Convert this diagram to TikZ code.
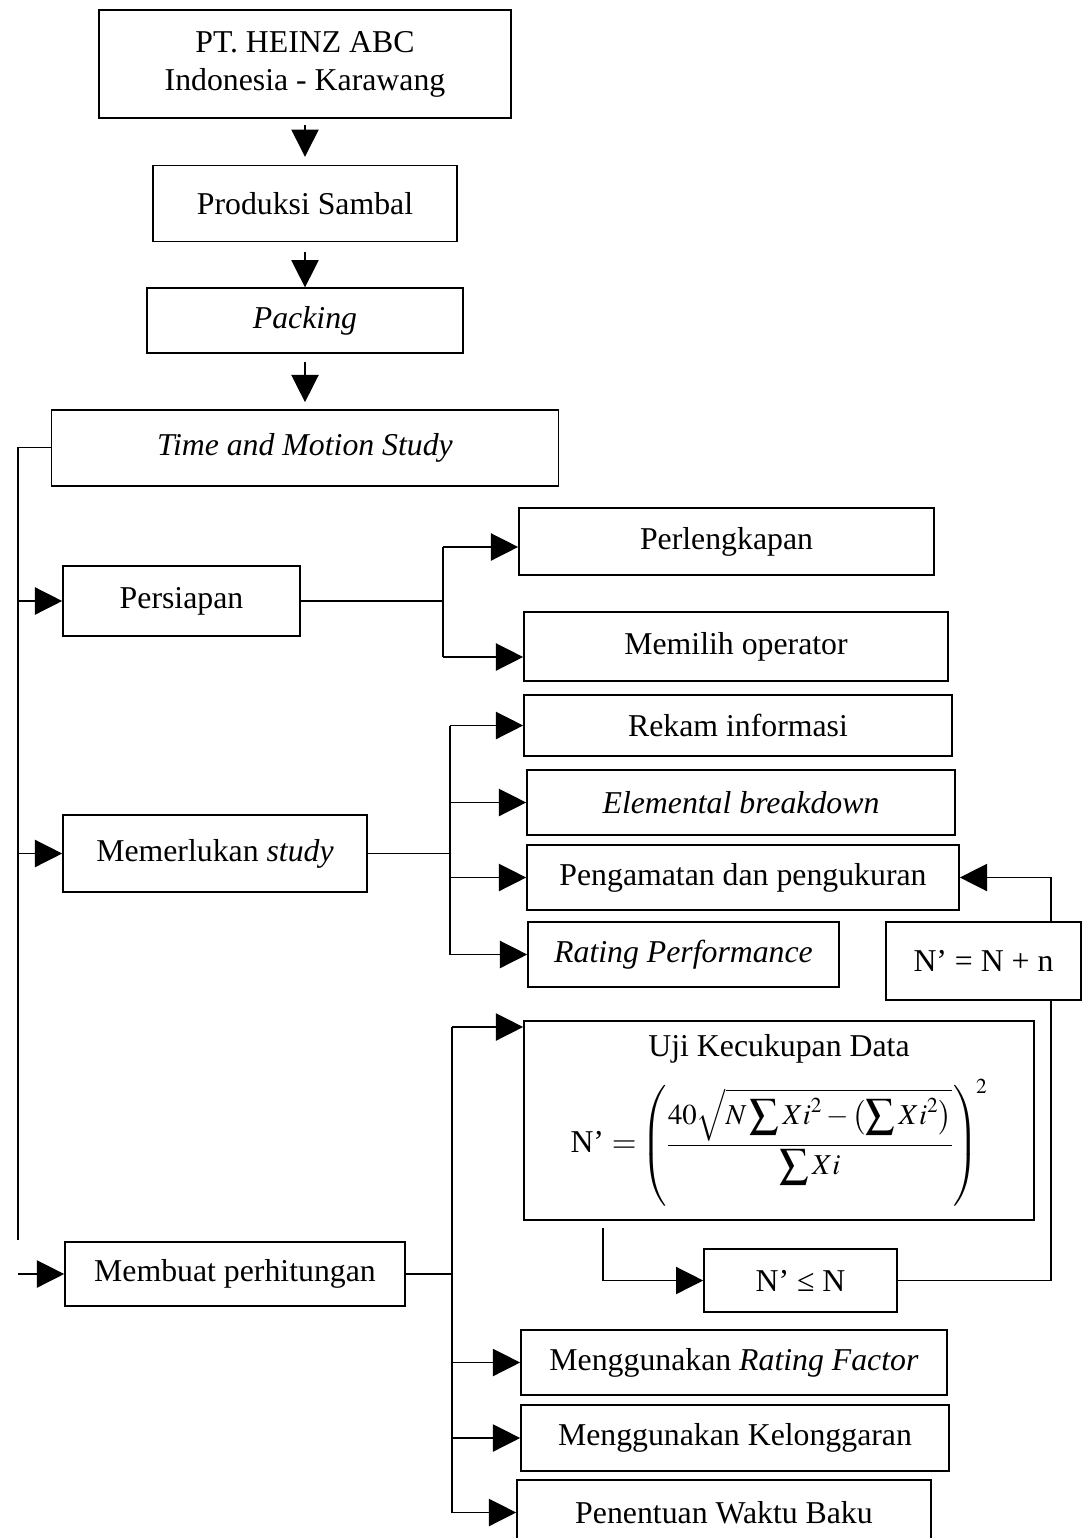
\documentclass[tikz,border=0pt]{standalone}
\usepackage{amsmath}
\usepackage{mathptmx}
\usepackage{fontspec}
\setmainfont{Liberation Serif}
\usepackage{tikz}
\usetikzlibrary{arrows.meta, positioning, calc}
\newcommand{\fsz}{\fontsize{22.6}{27}\selectfont}
\newcommand{\fmsz}{\fontsize{20.5}{24}\selectfont}
\tikzset{
  box/.style={rectangle, draw=black, fill=white, align=center,
    font=\fsz, line width=1.1pt, inner sep=2pt},
  arrow/.style={-{Triangle[length=0.68cm, width=0.68cm]}, line width=1pt, color=black},
  line/.style={line width=1pt, color=black}
}

\begin{document}
\begin{tikzpicture}[x=0.025cm, y=-0.025cm, node distance=1.1cm]
  \useasboundingbox (0,0) rectangle (1082,1538);

  \node[box, minimum width=10.3cm, minimum height=2.7cm] (heinz) at (305,64) {PT. HEINZ ABC\\Indonesia - Karawang};
  \node[box, minimum width=7.6cm, minimum height=1.9cm, below=1.15cm of heinz] (sambal) {Produksi Sambal};
  \node[box, minimum width=7.9cm, minimum height=1.625cm, below=1.125cm of sambal] (packing) {\textit{Packing}};
  \node[box, minimum width=12.675cm, minimum height=1.9cm, below=1.375cm of packing] (tms) {\textit{Time and Motion Study}};

  \node[box, minimum width=5.925cm, minimum height=1.75cm] (prep) at (181.5,601) {Persiapan};
  \node[box, minimum width=10.375cm, minimum height=1.675cm] (perl) at (726.5,541.5) {Perlengkapan};
  \node[box, minimum width=10.6cm, minimum height=1.725cm] (opr) at (736,646.5) {Memilih operator};

  \node[box, minimum width=7.6cm, minimum height=1.925cm] (study) at (215,853.5) {Memerlukan \textit{study}};
  \node[box, minimum width=10.7cm, minimum height=1.525cm] (rekam) at (738,725.5) {Rekam informasi};
  \node[box, minimum width=10.7cm, minimum height=1.625cm] (elem) at (741,802.5) {\textit{Elemental breakdown}};
  \node[box, minimum width=10.8cm, minimum height=1.625cm] (amat) at (743,877.5) {Pengamatan dan pengukuran};
  \node[box, minimum width=7.775cm, minimum height=1.625cm] (rate) at (683.5,954.5) {\textit{Rating Performance}};
  \node[box, minimum width=4.875cm, minimum height=1.95cm] (nplus) at (983.5,961) {N’ = N + n};

  \node[box, minimum width=12.75cm, minimum height=4.975cm] (uji) at (779,1120.5) {Uji Kecukupan Data\\[10pt]
    N’ $=\!$ {\fmsz$\left(\dfrac{40\sqrt{N\displaystyle\sum Xi^{2}-\left(\displaystyle\sum Xi^{2}\right)}}{\displaystyle\sum Xi}\right)^{\!2}$}};
  \node[box, minimum width=4.825cm, minimum height=1.575cm] (nle) at (800.5,1280.5) {N’ ≤ N};
  \node[box, minimum width=8.5cm, minimum height=1.6cm] (hitung) at (235,1274) {Membuat perhitungan};
  \node[box, minimum width=10.65cm, minimum height=1.625cm] (rfac) at (734,1362.5) {Menggunakan \textit{Rating Factor}};
  \node[box, minimum width=10.7cm, minimum height=1.65cm] (longgar) at (735,1438) {Menggunakan Kelonggaran};
  \node[box, minimum width=10.35cm, minimum height=1.625cm] (baku) at (724,1512.5) {Penentuan Waktu Baku};

  \coordinate (spt) at (18,439);
  \coordinate (spb) at (18,1240);
  \coordinate (pj) at (443,547);
  \coordinate (pjb) at (443,657);
  \coordinate (mj) at (450,725);
  \coordinate (hj) at (452,1027);
  \coordinate (ujb) at (603,1228);
  \coordinate (lx) at (1051,1286);

  \draw[arrow, shorten <=0.15cm, shorten >=0.2cm] (heinz) -- (sambal);
  \draw[arrow, shorten <=0.25cm] (sambal) -- (packing);
  \draw[arrow, shorten <=0.2cm, shorten >=0.17cm] (packing) -- (tms);

  \draw[line] (tms.west) -- (tms.west -| spt) -- (spb);
  \draw[arrow] (prep.west -| spt) -- (prep.west);
  \draw[arrow] (study.west -| spt) -- (study.west);
  \draw[arrow] (hitung.west -| spb) -- (hitung.west);

  \draw[line] (prep.east) -- (prep.east -| pj);
  \draw[line] (pj) -- (pjb);
  \draw[arrow] (pj) -- (pj -| perl.west);
  \draw[arrow] (pjb) -- (pjb -| opr.west);

  \draw[line] (study.east) -- (study.east -| mj);
  \draw[line] (mj |- rekam.west) -- (mj |- rate.west);
  \draw[arrow] (mj |- rekam.west) -- (rekam.west);
  \draw[arrow] (mj |- elem.west) -- (elem.west);
  \draw[arrow] (mj |- amat.west) -- (amat.west);
  \draw[arrow] (mj |- rate.west) -- (rate.west);

  \draw[line] (hitung.east) -- (hitung.east -| hj);
  \draw[line] (hj) -- (hj |- baku.west);
  \draw[arrow] (hj) -- (hj -| uji.west);
  \draw[arrow] (hj |- rfac.west) -- (rfac.west);
  \draw[arrow] (hj |- longgar.west) -- (longgar.west);
  \draw[arrow] (hj |- baku.west) -- (baku.west);

  \draw[arrow] (ujb) |- (nle.west);
  \draw[line] (nle.east) -- (nle.east -| lx) -- (lx |- nplus.south);
  \draw[arrow] (lx |- nplus.north) |- (amat.east);
\end{tikzpicture}
\end{document}
